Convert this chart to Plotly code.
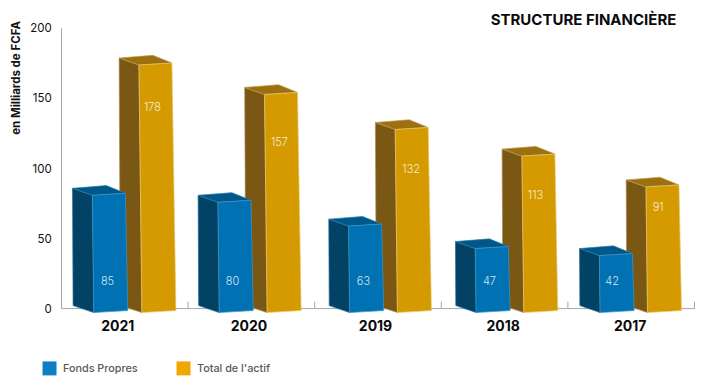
import plotly.graph_objects as go

# ---- data ----
years = ["2021", "2020", "2019", "2018", "2017"]
fonds_propres = [85, 80, 63, 47, 42]
total_actif = [178, 157, 132, 113, 91]
y_ticks = [0, 50, 100, 150, 200]
legend_names = ["Fonds Propres", "Total de l'actif"]

# label heights (axis units)
label_y_fonds = [18.6, 18.6, 18.6, 18.6, 18.6]
label_y_total = [143.2, 118, 98.8, 80.2, 71.5]
# horizontal placement of each group in the source (pixels relative to slot)
group_shift_px = [-32.5, -33.5, -29.4, -29.3, -31.8]
label_shift_px = [-7.0, -2.5, -2.5, -1.4, -1.0]
fonds_label_shift_px = [-17.3, -18.9, -14.5, -15.1, -19.0]
total_label_shift_px = [27.7, 28.1, 33.2, 30.9, 27.0]

PX_X = 126.6
PX_Y = 1.405
FONT = "Inter"


def xu(p):
    return p / PX_X


def yu(p):
    return p / PX_Y


def bar_polys(cx, v):
    """Three faces of a bar; cx is the front-left edge in axis units."""
    top = v - yu(5.8)
    h_px = v * 1.4
    lean = 0.012 * h_px
    base_l, base_r, base_back = yu(-4), yu(-2), yu(3)
    w = 33
    tl = (cx, top)
    tr = (cx + xu(w), top + yu(2))
    br = (cx + xu(w + lean + 1), base_r)
    bl = (cx + xu(lean), base_l)
    btl = (cx - xu(19.8), top + yu(7))
    bbl = (cx - xu(19.8 - lean * 0.4), base_back)
    btr = (cx + xu(14), top + yu(9.7))
    return dict(front=[tl, tr, br, bl, tl], side=[btl, tl, bl, bbl, btl], top=[btl, btr, tr, tl, btl])


def face(pts, fill, line):
    return go.Scatter(
        x=[p[0] for p in pts], y=[p[1] for p in pts], mode="lines", fill="toself",
        fillcolor=fill, line=dict(color=line, width=0.7), hoverinfo="skip", showlegend=False,
    )


fig = go.Figure()
BLUE = dict(front="#0071b3", side="#024265", top="#00578a", efront="#3f97c9", eside="#1f6a94", etop="#2a7cab")
GOLD = dict(front="#d49a00", side="#7a5712", top="#9c700f", efront="#e8c877", eside="#a88f57", etop="#b99a52")

for i in range(len(years)):
    x_blue = i + xu(group_shift_px[i])
    x_gold = x_blue + xu(46.6)
    for x0, v, c in ((x_gold, total_actif[i], GOLD), (x_blue, fonds_propres[i], BLUE)):
        p = bar_polys(x0, v)
        fig.add_trace(face(p["side"], c["side"], c["eside"]))
        fig.add_trace(face(p["top"], c["top"], c["etop"]))
        fig.add_trace(face(p["front"], c["front"], c["efront"]))

fig.add_trace(go.Scatter(
    x=[i + xu(s) for i, s in enumerate(fonds_label_shift_px)], y=label_y_fonds, mode="text",
    text=[str(v) for v in fonds_propres], textposition="middle center",
    textfont=dict(family=FONT, size=11, color="#cfe6f5", weight=300), hoverinfo="skip", showlegend=False,
))
fig.add_trace(go.Scatter(
    x=[i + xu(s) for i, s in enumerate(total_label_shift_px)], y=label_y_total, mode="text",
    text=[str(v) for v in total_actif], textposition="middle center",
    textfont=dict(family=FONT, size=11, color="#f7ecd0", weight=300), hoverinfo="skip", showlegend=False,
))

# axes lines and separators (axis units)
shapes = [
    dict(type="line", x0=-0.5, x1=4.5, y0=0, y1=0, line=dict(color="#a6a6a6", width=1), layer="below"),
    dict(type="line", x0=-0.5, x1=-0.5, y0=0, y1=200, line=dict(color="#a6a6a6", width=1), layer="below"),
]
for k in range(1, 6):
    shapes.append(dict(type="line", x0=k - 0.5, x1=k - 0.5, y0=0, y1=5,
                       line=dict(color="#a6a6a6", width=1), layer="below"))

W, H = 722, 388
L, R, T, B = 59.47, 24.5, 26.6, 70.57
PW, PH = W - L - R, H - T - B


def px(p):
    return (p - L) / PW


def py(p):
    return 1 - (p - T) / PH


# legend key: squares and text placed in page fractions
annotations = [dict(text="<b>en Milliards de FCFA</b>", textangle=-90, showarrow=False,
                    xref="paper", yref="paper", x=px(17), y=py(78), xanchor="center", yanchor="middle",
                    font=dict(family=FONT, size=11.5, color="#111111"))]
for name, col, sq, tx in zip(legend_names, ("#0e7fc5", "#f0a800"), (43, 177), (62, 196)):
    shapes.append(dict(type="rect", xref="paper", yref="paper", x0=px(sq), x1=px(sq + 14),
                       y0=py(376), y1=py(362), fillcolor=col, line=dict(width=0)))
    annotations.append(dict(text=name, showarrow=False, xref="paper", yref="paper", x=px(tx), y=py(369),
                            xanchor="left", yanchor="middle", xshift=-1,
                            font=dict(family=FONT, size=10.8, color="#555a60", weight=500)))

fig.update_layout(
    width=W, height=H, autosize=False,
    margin=dict(l=L, r=R, t=T, b=B, pad=0),
    paper_bgcolor="white", plot_bgcolor="white",
    font=dict(family=FONT, color="#111111"),
    shapes=shapes,
    showlegend=False,
    title=dict(text="<b>STRUCTURE FINANCIÈRE</b>", font=dict(family=FONT, size=15, color="#0a0a0a"),
               x=583.5 / W, xanchor="center", y=1 - 20 / H, yanchor="middle"),
    xaxis=dict(range=[-0.52, 4.52], tickmode="array",
               tickvals=[i + xu(lab) for i, lab in enumerate(label_shift_px)],
               ticktext=years, ticks="outside", ticklen=1, tickcolor="rgba(0,0,0,0)",
               ticklabelstandoff=-5,
               tickfont=dict(family=FONT, size=14, color="#0a0a0a", weight=700),
               showgrid=False, zeroline=False, showline=False, fixedrange=True),
    yaxis=dict(range=[-6, 201], tickmode="array", tickvals=y_ticks, ticks="outside", ticklen=4,
               tickcolor="rgba(0,0,0,0)", tickfont=dict(family=FONT, size=11.5, color="#111111"),
               showgrid=False, zeroline=False, showline=False, fixedrange=True),
    annotations=annotations,
)

fig.write_html("out.html", post_script="document.body.style.margin='0';",
               config=dict(displayModeBar=False))
